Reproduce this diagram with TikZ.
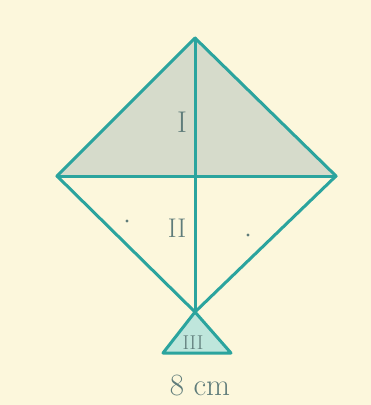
\documentclass[tikz,border=0pt]{standalone}
\begin{document}
\begin{tikzpicture}[x=1pt,y=-1pt,
  edge/.style={draw=kiteline,line width=3pt,line cap=round,line join=round},
  lbl/.style={text=labelcol,inner sep=0pt}]
\definecolor{bgc}{HTML}{FCF7DC}
\definecolor{kiteline}{HTML}{2BA49E}
\definecolor{topfill}{HTML}{D6DBCB}
\definecolor{trifill}{HTML}{BFE6DC}
\definecolor{labelcol}{HTML}{5F7C7A}
\fill[bgc] (0,0) rectangle (371,405);
\useasboundingbox (0,0) rectangle (371,405);
\coordinate (T) at (195,38);
\coordinate (L) at (57,176);
\coordinate (R) at (336,176);
\coordinate (B) at (195,312);
\coordinate (C) at (195,176);
\coordinate (BL) at (163,353);
\coordinate (BR) at (231,353);
\fill[topfill] (L) -- (T) -- (R) -- cycle;
\fill[trifill] (B) -- (BL) -- (BR) -- cycle;
\draw[edge] (T) -- (R) -- (B) -- (L) -- cycle;
\draw[edge] (L) -- (R);
\draw[edge] (T) -- (B);
\draw[edge] (B) -- (BL) -- (BR) -- cycle;
\node[lbl,font=\fontsize{30}{30}\selectfont] (l1) at (182,122) {I};
\node[lbl,font=\fontsize{27}{27}\selectfont] (l2) at (177,228) {II};
\node[lbl,font=\fontsize{20}{20}\selectfont] (l3) at (193,343) {III};
\node[lbl,font=\fontsize{31}{31}\selectfont] (len) at (200,385) {8 cm};
\fill[labelcol] (127,221) circle (1.6);
\fill[labelcol] (248,235) circle (1.6);
\end{tikzpicture}
\end{document}
